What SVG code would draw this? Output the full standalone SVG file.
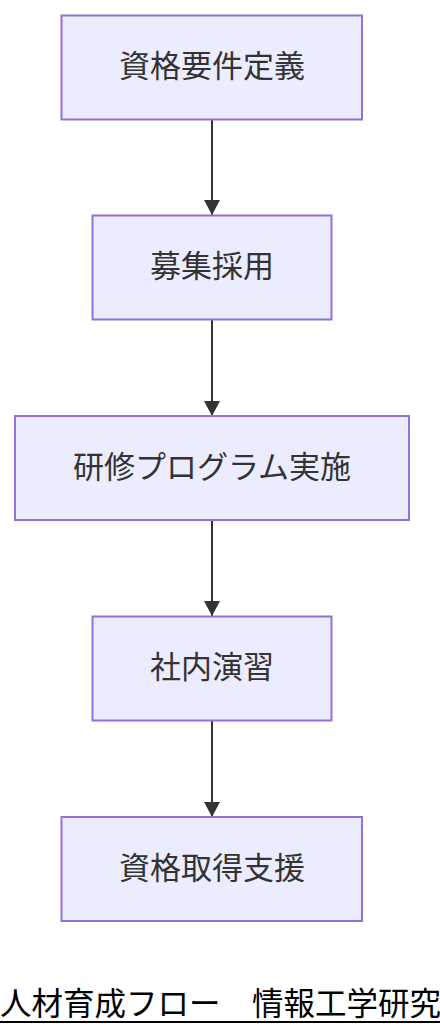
<svg xmlns="http://www.w3.org/2000/svg" width="440" height="1036" viewBox="0 0 440 1036">
<style>
.node rect{fill:#ECECFF;stroke:#9370DB;stroke-width:2}
.node text{font-family:"Noto Sans CJK JP","Noto Sans",sans-serif;font-size:31px;fill:#333;text-anchor:middle}
.edge{stroke:#333;stroke-width:2;fill:none}
.title{font-family:"Noto Sans CJK JP","Noto Sans",sans-serif;font-size:31.5px;fill:#000}
</style>
<defs>
<marker id="arrow" markerWidth="16" markerHeight="16" refX="15" refY="8" orient="auto" markerUnits="userSpaceOnUse">
<path d="M0,0 L15,8 L0,16 Z" fill="#333"/>
</marker>
</defs>
<rect width="440" height="1036" fill="#fff"/>
<g id="connectors">
<line class="edge" x1="212" y1="120" x2="212" y2="215" marker-end="url(#arrow)"/>
<line class="edge" x1="212" y1="320" x2="212" y2="416" marker-end="url(#arrow)"/>
<line class="edge" x1="212" y1="520" x2="212" y2="616" marker-end="url(#arrow)"/>
<line class="edge" x1="212" y1="721" x2="212" y2="817" marker-end="url(#arrow)"/>
</g>
<g id="n1" class="node"><rect x="61.5" y="15.5" width="300.5" height="104"/><text x="212" y="77">資格要件定義</text></g>
<g id="n2" class="node"><rect x="92.5" y="215.5" width="239" height="104"/><text x="212" y="277">募集採用</text></g>
<g id="n3" class="node"><rect x="15" y="416" width="394" height="104"/><text x="212" y="478">研修プログラム実施</text></g>
<g id="n4" class="node"><rect x="92.5" y="616.5" width="239" height="104"/><text x="212" y="678">社内演習</text></g>
<g id="n5" class="node"><rect x="61.5" y="817" width="300.5" height="104"/><text x="212" y="879">資格取得支援</text></g>
<g id="title">
<text class="title" x="0" y="1015">人材育成フロー　情報工学研究</text>
<line x1="0" y1="1022" x2="440" y2="1022" stroke="#000" stroke-width="2"/>
</g>
</svg>
